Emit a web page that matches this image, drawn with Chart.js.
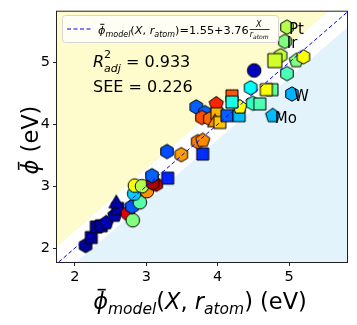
<!DOCTYPE html>
<html>
<head>
<meta charset="utf-8">
<script src="https://cdn.jsdelivr.net/npm/chart.js@4.4.1/dist/chart.umd.min.js"></script>
<style>
  html, body { margin: 0; padding: 0; background: #fff; }
  canvas { display: block; }
</style>
</head>
<body>
<canvas id="chart" width="357" height="325"></canvas>
<script>
'use strict';

/* ---- data ---- */
const X_MODEL = [
    2.15, 2.23, 2.30, 2.37, 2.44, 2.56, 2.60, 2.58, 2.74, 2.81, 2.80, 2.91, 2.83, 3.01, 2.84, 2.94, 3.14, 3.09,
    3.08, 3.30, 3.29, 3.49, 3.79, 3.72, 3.79,
    3.70, 3.82, 3.98, 3.78, 3.89, 3.99, 3.96, 4.03, 4.13, 4.30, 4.31, 4.20, 4.20, 4.77, 5.04,
    4.46, 4.76, 4.68, 4.49, 4.59, 4.51, 4.97, 4.88, 4.80, 5.10, 5.20, 4.94, 4.97
];
const PHI_EXP = [
    2.04, 2.17, 2.34, 2.36, 2.41, 2.53, 2.64, 2.72, 2.56, 2.45, 2.67, 2.74, 2.88, 2.92, 3.01, 3.00, 3.03, 3.05,
    3.17, 3.13, 3.56, 3.51, 3.52, 3.72, 3.74,
    4.28, 4.19, 4.33, 4.11, 4.09, 4.17, 4.03, 4.03, 4.14, 4.14, 4.28, 4.46, 4.36, 4.14, 4.49,
    4.59, 4.56, 4.56, 4.34, 4.33, 4.87, 4.82, 5.11, 5.03, 5.03, 5.09, 5.34, 5.57
];
// marker family of each point
const MARKER = [
    'hex', 'square', 'square', 'square', 'pent', 'pent', 'square', 'tri', 'circle', 'circle', 'hex', 'circle', 'circle', 'circle', 'circle', 'circle', 'hex', 'hex',
    'hex', 'square', 'hex', 'hex', 'square', 'hex', 'pent',
    'hex', 'hex', 'pent', 'hex', 'hex', 'square', 'tri', 'square', 'square', 'square', 'pent', 'square', 'square', 'pent', 'hex',
    'hex', 'square', 'square', 'hex', 'square', 'circle', 'hex', 'hex', 'bigsquare', 'pent', 'hex', 'hex', 'hex'
];
// colour value on the jet scale (0 .. 1)
const CVAL = [
    0.02, 0.02, 0.02, 0.03, 0.04, 0.04, 0.03, 0.04, 0.90, 0.50, 0.21, 0.46, 0.33, 0.73, 0.62, 0.55, 0.93, 0.96,
    0.22, 0.16, 0.20, 0.72, 0.17, 0.75, 0.74,
    0.22, 0.22, 0.84, 0.80, 0.77, 0.70, 0.73, 0.68, 0.22, 0.31, 0.62, 0.79, 0.40, 0.31, 0.30,
    0.38, 0.47, 0.62, 0.43, 0.45, 0.06, 0.45, 0.56, 0.58, 0.50, 0.62, 0.50, 0.55
];
const NAMES = [
    '', '', '', '', '', '', '', '', '', '', '', '', '', '', '', '', '', '',
    '', '', '', '', '', '', '',
    '', '', '', '', '', '', '', '', '', '', '', '', '', 'Mo', 'W',
    '', '', '', '', '', '', '', '', '', '', '', 'Ir', 'Pt'
];
const TICKS   = [2, 3, 4, 5];
const X_RANGE = [1.75, 5.81];
const Y_RANGE = [1.775, 5.82];
const FIT_A   = 1.55, FIT_B = 3.76;
const R2_ADJ  = 0.933, SEE = 0.226;
const BAND_UP = 0.28, BAND_DN = 0.25;

const FONT   = '"DejaVu Sans", sans-serif';
const YELLOW = '#fefbcc';
const BLUE   = '#e2f3fc';

function jet(v) {
    const c = t => Math.round(255 * Math.max(0, Math.min(1, t)));
    return `rgb(${c(1.5 - Math.abs(4 * v - 3))},${c(1.5 - Math.abs(4 * v - 2))},${c(1.5 - Math.abs(4 * v - 1))})`;
}

/* marker images, cached per shape+colour */
const markerCache = {};
function marker(shape, color) {
    const key = shape + color;
    if (markerCache[key]) return markerCache[key];
    const cv = document.createElement('canvas');
    cv.width = 20; cv.height = 20;
    const g = cv.getContext('2d');
    g.fillStyle = color; g.strokeStyle = '#000'; g.lineWidth = 1;
    g.beginPath();
    const poly = (n, r) => {
        for (let k = 0; k < n; k++) {
            const a = -Math.PI / 2 + k * 2 * Math.PI / n;
            const px = 10 + r * Math.cos(a), py = 10 + r * Math.sin(a);
            k ? g.lineTo(px, py) : g.moveTo(px, py);
        }
        g.closePath();
    };
    if (shape === 'hex') poly(6, 7.2);
    else if (shape === 'pent') poly(5, 7.5);
    else if (shape === 'tri') poly(3, 8.5);
    else if (shape === 'circle') g.arc(10, 10, 6.8, 0, Math.PI * 2);
    else if (shape === 'bigsquare') g.rect(3, 3, 14, 14);
    else g.rect(4, 4, 12, 12);
    g.fill(); g.stroke();
    markerCache[key] = cv;
    return cv;
}

/* draws a run of text pieces: [text, size, italic, dy, bar] */
function rich(ctx, x, y, parts, measureOnly) {
    let cx = x;
    parts.forEach(([t, size, it, dy, bar]) => {
        ctx.font = `${it ? 'italic ' : ''}${size}px ${FONT}`;
        const w = ctx.measureText(t).width;
        if (!measureOnly) {
            ctx.fillText(t, cx, y + (dy || 0));
            if (bar) {
                ctx.save();
                ctx.lineWidth = Math.max(1, size / 14);
                ctx.beginPath();
                ctx.moveTo(cx + w * 0.3, y - size * 0.86);
                ctx.lineTo(cx + w * 0.85, y - size * 0.86);
                ctx.strokeStyle = ctx.fillStyle;
                ctx.stroke();
                ctx.restore();
            }
        }
        cx += w;
    });
    return cx - x;
}

const backdrop = {
    id: 'backdrop',
    beforeDatasetsDraw(chart) {
        const { ctx, chartArea: a, scales: { x, y } } = chart;
        const P = (u, v) => [x.getPixelForValue(u), y.getPixelForValue(v)];
        const fillPoly = (pts, col) => {
            ctx.beginPath();
            pts.forEach((p, i) => { const [px, py] = P(p[0], p[1]); i ? ctx.lineTo(px, py) : ctx.moveTo(px, py); });
            ctx.closePath();
            ctx.fillStyle = col; ctx.fill();
        };
        const lo = X_RANGE[0] - 1, hi = X_RANGE[1] + 1;
        ctx.save();
        ctx.beginPath(); ctx.rect(a.left, a.top, a.right - a.left, a.bottom - a.top); ctx.clip();
        ctx.fillStyle = BLUE; ctx.fillRect(a.left, a.top, a.right - a.left, a.bottom - a.top);
        fillPoly([[lo, lo - BAND_DN], [hi, hi - BAND_DN], [hi, hi + BAND_UP], [lo, lo + BAND_UP]], '#fff');
        fillPoly([[lo, lo + BAND_UP], [hi, hi + BAND_UP], [hi, hi + 10], [lo, hi + 10]], YELLOW);
        ctx.restore();
    }
};

const overlay = {
    id: 'overlay',
    afterDatasetsDraw(chart) {
        const { ctx, chartArea: a, scales: { x, y } } = chart;
        ctx.save();
        ctx.fillStyle = '#000';
        ctx.textBaseline = 'alphabetic';

        // element names
        ctx.font = `15px ${FONT}`;
        NAMES.forEach((n, i) => {
            if (!n) return;
            ctx.fillText(n, x.getPixelForValue(X_MODEL[i]) + 2, y.getPixelForValue(PHI_EXP[i]) + 7);
        });

        // fit statistics
        const sx = a.left + 36;
        const w1 = rich(ctx, sx, 67, [['R', 16, true]]);
        rich(ctx, sx + w1, 58, [['2', 11, false]]);
        const w2 = rich(ctx, sx + w1, 72, [['adj', 11, true]]);
        rich(ctx, sx + w1 + w2, 67, [[' = ' + R2_ADJ.toFixed(3), 16, false]]);
        rich(ctx, sx, 92, [['SEE = ' + SEE.toFixed(3), 16, false]]);

        // frame
        ctx.strokeStyle = '#222'; ctx.lineWidth = 1;
        ctx.strokeRect(a.left - 0.5, a.top - 0.5, a.right - a.left + 1, a.bottom - a.top + 1);

        // legend box
        ctx.beginPath();
        ctx.roundRect(62.5, 15.5, 216, 27, 3);
        ctx.fillStyle = 'rgba(255,255,255,0.8)'; ctx.fill();
        ctx.strokeStyle = '#d6d6d6'; ctx.stroke();
        ctx.beginPath();
        ctx.setLineDash([4, 2.5]);
        ctx.moveTo(67, 29); ctx.lineTo(91, 29);
        ctx.strokeStyle = '#0000ff'; ctx.stroke();
        ctx.setLineDash([]);
        ctx.fillStyle = '#000';
        const lw = rich(ctx, 98, 34, [
            ['ϕ', 11.3, true, 0, true], ['model', 8, true, 3], ['(', 11.3], ['X', 11.3, true], [', ', 11.3],
            ['r', 11.3, true], ['atom', 8, true, 3], [`)=${FIT_A}+${FIT_B}`, 11.3]
        ]);
        const fx = 98 + lw + 1;
        const rw = rich(ctx, 0, 0, [['r', 8, true], ['atom', 6, true]], true);
        rich(ctx, fx + rw / 2 - 3, 27, [['X', 8, true]]);
        ctx.fillRect(fx, 29, rw + 1, 0.8);
        rich(ctx, fx, 37, [['r', 8, true], ['atom', 6, true, 1.5]]);

        ctx.restore();
    },
    afterDraw(chart) {
        const { ctx, chartArea: a } = chart;
        ctx.save();
        ctx.fillStyle = '#000';
        // x title
        const xp = [['ϕ', 22.5, true, 0, true], ['model', 15.5, true, 5], ['(', 22.5], ['X', 22.5, true], [', ', 22.5],
                    ['r', 22.5, true], ['atom', 15.5, true, 5], [')', 22.5], [' (eV)', 22.5]];
        const xw = rich(ctx, 0, 0, xp, true);
        rich(ctx, 200 - xw / 2, 309, xp);
        // y title
        const yp = [['ϕ', 22.5, true, 0, true], [' (eV)', 22.5]];
        const yw = rich(ctx, 0, 0, yp, true);
        ctx.translate(38, 140);
        ctx.rotate(-Math.PI / 2);
        rich(ctx, -yw / 2, 0, yp);
        ctx.restore();
    }
};

const axisCommon = {
    type: 'linear',
    afterBuildTicks: s => { s.ticks = TICKS.map(v => ({ value: v })); },
    grid: { drawOnChartArea: false, drawTicks: true, tickLength: 4, color: '#222' },
    border: { display: false },
    ticks: { color: '#000', font: { family: FONT, size: 14.5 }, maxRotation: 0 }
};

new Chart(document.getElementById('chart'), {
    type: 'scatter',
    data: {
        datasets: [
            {
                type: 'line',
                data: [{ x: Y_RANGE[0], y: Y_RANGE[0] }, { x: X_RANGE[1], y: X_RANGE[1] }],
                borderColor: '#0000ff', borderWidth: 1, borderDash: [4, 2.5],
                pointRadius: 0, fill: false
            },
            {
                data: X_MODEL.map((v, i) => ({ x: v, y: PHI_EXP[i] })),
                pointRadius: 7,
                pointStyle: c => marker(MARKER[c.dataIndex], jet(CVAL[c.dataIndex]))
            }
        ]
    },
    options: {
        responsive: false,
        animation: false,
        events: [],
        layout: { padding: { left: 0, right: 10, top: 10, bottom: 0 } },
        plugins: { legend: { display: false }, tooltip: { enabled: false } },
        scales: {
            x: { ...axisCommon, min: X_RANGE[0], max: X_RANGE[1], afterFit: s => { s.height = 63; }, ticks: { ...axisCommon.ticks, padding: 3 } },
            y: { ...axisCommon, min: Y_RANGE[0], max: Y_RANGE[1], afterFit: s => { s.width = 57; }, ticks: { ...axisCommon.ticks, padding: 3 } }
        }
    },
    plugins: [backdrop, overlay]
});
</script>
</body>
</html>
